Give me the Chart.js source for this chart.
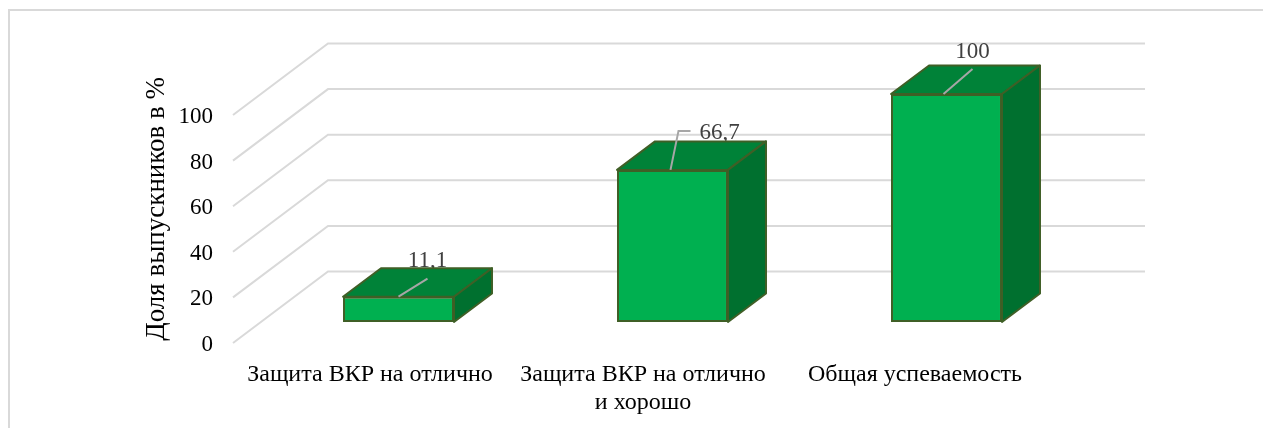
<!DOCTYPE html>
<html lang="ru">
<head>
<meta charset="utf-8">
<title>Доля выпускников</title>
<script src="https://cdn.jsdelivr.net/npm/chart.js@4"></script>
<style>
  html, body { margin: 0; padding: 0; background: #fff; overflow: hidden; }
  #wrap { position: relative; width: 1263px; height: 428px; overflow: hidden; }
  #frame { position: absolute; left: 8px; top: 9px; right: -10px; height: 430px; border-left: 2px solid #d9d9d9; border-top: 2px solid #d9d9d9; }
  canvas { position: absolute; left: 0; top: 0; }
</style>
</head>
<body>
<div id="wrap">
  <div id="frame"></div>
  <canvas id="chart" width="1263" height="428"></canvas>
</div>
<script>
var categories = [
  "Защита ВКР на отлично",
  ["Защита ВКР на отлично", "и хорошо"],
  "Общая успеваемость"
];
var values = [11.1, 66.7, 100];
var yTicks = [0, 20, 40, 60, 80, 100];
var yTitle = "\u200aДоля выпускников в %";

// leader line of each data label, as offsets from the top front edge of the bar
var labelOffsets = [
  { line: [[0, 0], [29, -18]], text: [29, -36] },
  { line: [[-2, 0], [6, -39], [18, -39]], text: [47, -37] },
  { line: [[-3, 0], [26, -25]], text: [26, -42] }
];
var xLabelShift = [0, -1, -3];

// 3D look: wall depth and how far the bars sit into the floor
var wallDx = 95, wallDy = 71.5, wallEndInset = 5;
var barDx = 28.5, barDy = 21;
var sideDx = 38, sideDy = 28.5;

var serif = "'Liberation Serif', 'Times New Roman', serif";
var frontColor = "#00b050", topColor = "#008238", sideColor = "#00702f", edgeColor = "#3f5f26";

function face(ctx, pts, fill) {
  ctx.beginPath();
  ctx.moveTo(pts[0][0], pts[0][1]);
  for (var i = 1; i < pts.length; i++) ctx.lineTo(pts[i][0], pts[i][1]);
  ctx.closePath();
  ctx.fillStyle = fill;
  ctx.fill();
  ctx.stroke();
}

function formatValue(v) {
  return String(v).replace(".", ",");
}

var box3d = {
  id: "box3d",
  beforeDraw: function(chart) {
    // nudge the axis labels to where the reference has them
    chart.scales.y.getLabelItems().forEach(function(item) {
      item.textOffset += 2;
    });
    chart.scales.x.getLabelItems().forEach(function(item, i) {
      item.options.translation = [item.options.translation[0] + xLabelShift[i], item.options.translation[1]];
    });
  },
  beforeDatasetsDraw: function(chart) {
    var ctx = chart.ctx, y = chart.scales.y, area = chart.chartArea;
    // walls
    ctx.save();
    ctx.strokeStyle = "#d9d9d9";
    ctx.lineWidth = 2;
    y.ticks.forEach(function(t) {
      var py = y.getPixelForValue(t.value);
      ctx.beginPath();
      ctx.moveTo(area.left, py);
      ctx.lineTo(area.left + wallDx, py - wallDy);
      ctx.lineTo(area.right + wallDx - wallEndInset, py - wallDy);
      ctx.stroke();
    });
    ctx.restore();

    // labels sit behind the boxes
    ctx.save();
    ctx.font = "23px " + serif;
    ctx.fillStyle = "#404040";
    ctx.textAlign = "center";
    ctx.textBaseline = "middle";
    chart.getDatasetMeta(0).data.forEach(function(bar, i) {
      var o = labelOffsets[i].text;
      ctx.fillText(formatValue(values[i]), bar.x + barDx + o[0], bar.y - barDy + o[1]);
    });
    ctx.restore();

    // top and side faces
    ctx.save();
    ctx.strokeStyle = edgeColor;
    ctx.lineWidth = 2;
    ctx.lineJoin = "round";
    chart.getDatasetMeta(0).data.forEach(function(bar) {
      var l = bar.x - bar.width / 2 + barDx, r = bar.x + bar.width / 2 + barDx;
      var t = bar.y - barDy, b = bar.base - barDy;
      face(ctx, [[l, t], [r, t], [r + sideDx, t - sideDy], [l + sideDx, t - sideDy]], topColor);
      face(ctx, [[r, t], [r + sideDx, t - sideDy], [r + sideDx, b - sideDy], [r, b]], sideColor);
    });
    ctx.restore();

    // the front face is the real bar, moved into the floor
    ctx.save();
    ctx.translate(barDx, -barDy);
  },
  afterDatasetsDraw: function(chart) {
    var ctx = chart.ctx;
    ctx.restore();
    // leader lines go over the boxes
    ctx.save();
    ctx.strokeStyle = "#a6a6a6";
    ctx.lineWidth = 2;
    chart.getDatasetMeta(0).data.forEach(function(bar, i) {
      var x0 = bar.x + barDx, y0 = bar.y - barDy;
      var line = labelOffsets[i].line;
      ctx.beginPath();
      line.forEach(function(p, j) {
        if (j === 0) ctx.moveTo(x0 + p[0], y0 + p[1]);
        else ctx.lineTo(x0 + p[0], y0 + p[1]);
      });
      ctx.stroke();
    });
    ctx.restore();
  }
};

new Chart(document.getElementById("chart"), {
  type: "bar",
  plugins: [box3d],
  data: {
    labels: categories,
    datasets: [{
      data: values,
      backgroundColor: frontColor,
      borderColor: edgeColor,
      borderWidth: 2,
      borderSkipped: false,
      barPercentage: 1,
      categoryPercentage: 0.405,
      clip: false
    }]
  },
  options: {
    responsive: false,
    animation: false,
    layout: { padding: { top: 115, right: 208, left: 0, bottom: 0 } },
    plugins: { legend: { display: false }, title: { display: false }, tooltip: { enabled: false } },
    scales: {
      x: {
        grid: { display: false },
        border: { display: false },
        ticks: {
          color: "#000",
          font: { family: serif, size: 24, lineHeight: 1.17 },
          padding: 10,
          maxRotation: 0,
          minRotation: 0,
          autoSkip: false
        },
        afterFit: function(scale) { scale.height = 85; }
      },
      y: {
        min: 0,
        max: 100,
        afterBuildTicks: function(scale) {
          scale.ticks = yTicks.map(function(v) { return { value: v }; });
        },
        grid: { display: false, drawTicks: false },
        border: { display: false },
        ticks: {
          color: "#000",
          font: { family: serif, size: 23 },
          padding: 20
        },
        title: {
          display: true,
          text: yTitle,
          align: "start",
          color: "#000",
          font: { family: serif, size: 27 },
          padding: { top: 141, bottom: 0 }
        },
        afterFit: function(scale) { scale.width = 233; }
      }
    }
  }
});
</script>
</body>
</html>
